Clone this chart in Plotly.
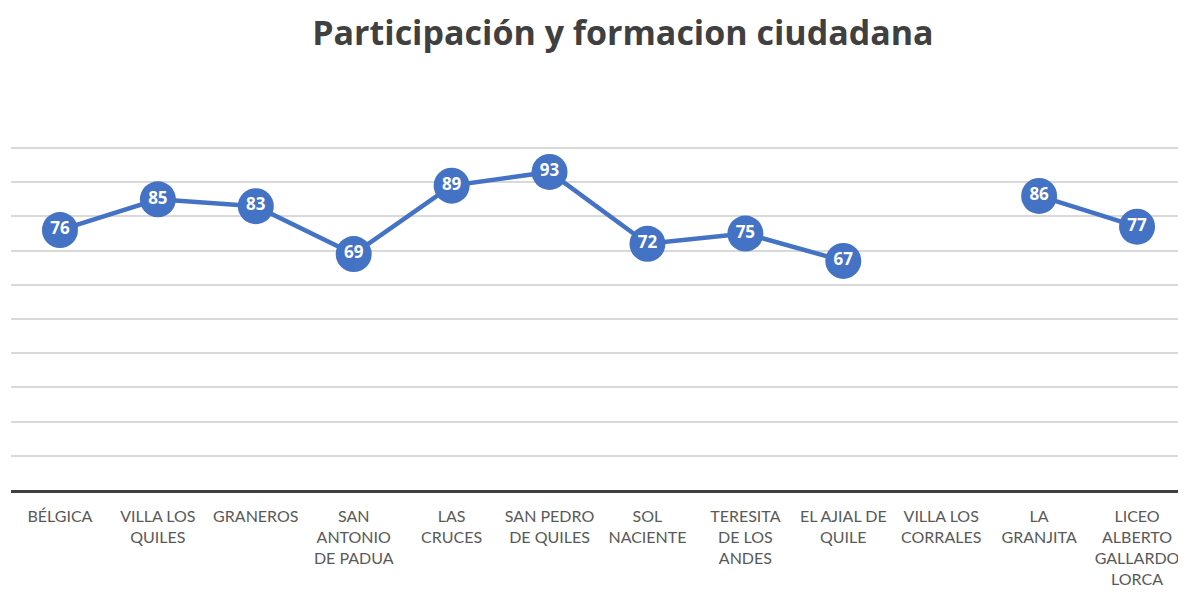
import plotly.graph_objects as go

categories = ["BÉLGICA", "VILLA LOS QUILES", "GRANEROS", "SAN ANTONIO DE PADUA",
              "LAS CRUCES", "SAN PEDRO DE QUILES", "SOL NACIENTE",
              "TERESITA DE LOS ANDES", "EL AJIAL DE QUILE", "VILLA LOS CORRALES",
              "LA GRANJITA", "LICEO ALBERTO GALLARDO LORCA"]
tick_labels = ["BÉLGICA", "VILLA LOS<br>QUILES", "GRANEROS", "SAN<br>ANTONIO<br>DE PADUA",
               "LAS<br>CRUCES", "SAN PEDRO<br>DE QUILES", "SOL<br>NACIENTE",
               "TERESITA<br>DE LOS<br>ANDES", "EL AJIAL DE<br>QUILE", "VILLA LOS<br>CORRALES",
               "LA<br>GRANJITA", "LICEO<br>ALBERTO<br>GALLARDO<br>LORCA"]
values = [76, 85, 83, 69, 89, 93, 72, 75, 67, None, 86, 77]

fig = go.Figure()
fig.add_trace(go.Scatter(
    x=categories, y=values, mode="lines+markers+text",
    line=dict(color="#4472C4", width=4.5),
    marker=dict(size=36, color="#4472C4", line=dict(width=0)),
    text=[str(v) if v is not None else "" for v in values],
    textposition="middle center",
    textfont=dict(family="Open Sans", size=17, color="white", weight="bold"),
    connectgaps=False, cliponaxis=False, hoverinfo="skip", showlegend=False,
))

fig.update_layout(
    width=1178, height=584,
    margin=dict(l=3, r=0, t=139, b=102),
    paper_bgcolor="white", plot_bgcolor="white",
    title=dict(text="<b>Participación y formacion ciudadana</b>",
               x=0.522, xanchor="center", y=1 - 25 / 584, yanchor="middle",
               font=dict(family="Open Sans", size=34, color="#404040")),
    xaxis=dict(tickmode="array", tickvals=categories, ticktext=tick_labels,
               showgrid=False, showline=True, linecolor="#404040", linewidth=3,
               ticks="", ticklabelstandoff=10, automargin=False,
               tickfont=dict(family="Lato", size=16, color="#595959"),
               range=[-0.5, 11.5], fixedrange=True),
    yaxis=dict(range=[0, 100.3], tickvals=[10, 20, 30, 40, 50, 60, 70, 80, 90, 100],
               showticklabels=False, showgrid=True, automargin=False,
               gridcolor="#D9D9D9", gridwidth=1.5, zeroline=False, showline=False),
)

fig.write_html("out.html")
